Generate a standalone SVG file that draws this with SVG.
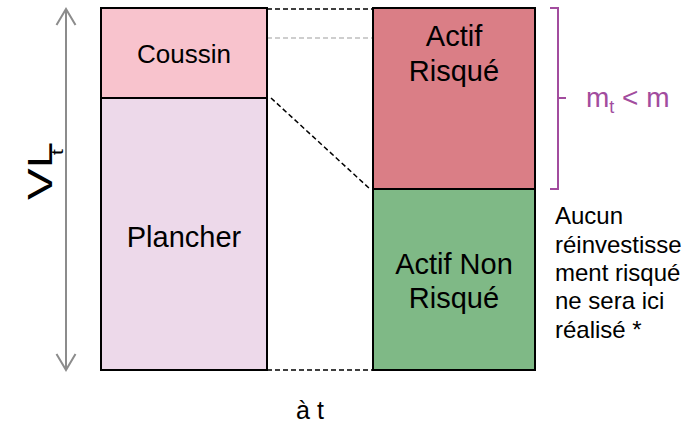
<svg xmlns="http://www.w3.org/2000/svg" width="686" height="426" viewBox="0 0 686 426">
<style>
  text { font-family: "Liberation Sans", Arial, sans-serif; fill: #000; }
  .box { stroke: #000; stroke-width: 2; }
  .dash { stroke: #000; stroke-width: 1.5; stroke-dasharray: 5 3; fill: none; }
  .gdash { stroke: #BFBFBF; stroke-width: 1.5; stroke-dasharray: 5 3; fill: none; }
  .axis { stroke: #8C8C8C; stroke-width: 2; fill: none; }
  .brace { stroke: #A24C9E; stroke-width: 2; fill: none; }
  .purple { fill: #A24C9E; }
</style>
<rect width="686" height="426" fill="#fff"/>
<g id="connectors">
  <line class="gdash" x1="267" y1="38" x2="539" y2="38"/>
  <line class="dash" x1="267" y1="9" x2="373" y2="9"/>
  <line class="dash" x1="271" y1="98" x2="370" y2="189"/>
  <line class="dash" x1="267" y1="370" x2="373" y2="370"/>
</g>
<g id="axis">
  <line class="axis" x1="66" y1="9" x2="66" y2="370"/>
  <polyline class="axis" points="56.5,25 66,9 75.5,25"/>
  <polyline class="axis" points="56.5,354 66,370 75.5,354"/>
  <text transform="translate(52,200) rotate(-90) scale(1.32,1)" font-size="36">VL<tspan font-size="16" dx="-10" dy="11">t</tspan></text>
</g>
<g id="coussin">
  <rect class="box" x="101" y="8" width="166" height="90" fill="#F8C3CD"/>
  <text x="184" y="63" font-size="26" text-anchor="middle">Coussin</text>
</g>
<g id="plancher">
  <rect class="box" x="101" y="98" width="166" height="272" fill="#EDD9EA"/>
  <text x="184" y="247" font-size="29" text-anchor="middle">Plancher</text>
</g>
<g id="actif-risque">
  <rect class="box" x="373" y="8" width="162" height="181" fill="#DA7E86"/>
  <text x="454" y="46" font-size="29" text-anchor="middle">Actif</text>
  <text x="454" y="81" font-size="29" text-anchor="middle">Risqué</text>
</g>
<g id="actif-non-risque">
  <rect class="box" x="373" y="189" width="162" height="181" fill="#7FB986"/>
  <text x="454" y="274" font-size="29" text-anchor="middle">Actif Non</text>
  <text x="454" y="308" font-size="29" text-anchor="middle">Risqué</text>
</g>
<g id="brace">
  <path class="brace" d="M550,8 H558 V189 H550 M558,98 H566"/>
  <text class="purple" x="586" y="107" font-size="28">m<tspan font-size="18" dy="6">t</tspan><tspan dy="-6"> &lt; m</tspan></text>
</g>
<g id="note">
  <text x="555" y="224" font-size="24">Aucun</text>
  <text x="555" y="253" font-size="24">réinvestisse</text>
  <text x="555" y="281" font-size="24">ment risqué</text>
  <text x="555" y="309" font-size="24">ne sera ici</text>
  <text x="555" y="338" font-size="24">réalisé *</text>
</g>
<text x="310" y="419" font-size="25" text-anchor="middle">à t</text>
</svg>
